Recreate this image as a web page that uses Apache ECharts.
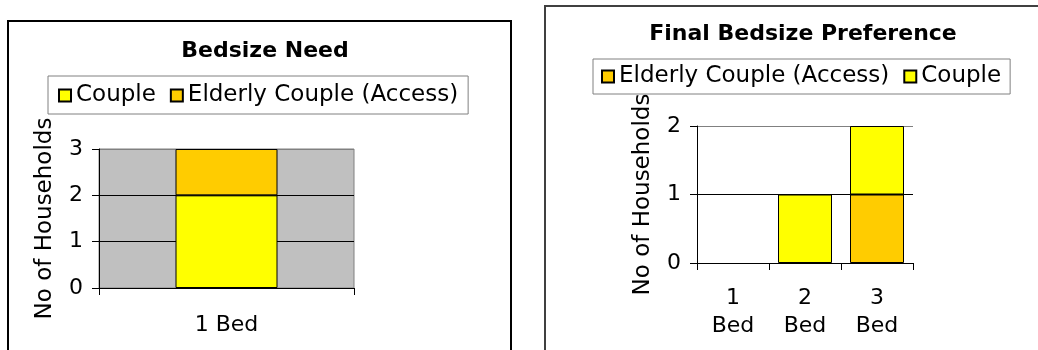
<!DOCTYPE html>
<html>
<head>
<meta charset="utf-8">
<script src="https://cdn.jsdelivr.net/npm/echarts@6/dist/echarts.min.js"></script>
<style>
  html, body { margin: 0; padding: 0; background: #fff; }
  #chart { width: 1038px; height: 350px; }
</style>
</head>
<body>
<div id="chart"></div>
<script>
// Bedsize Need (left panel)
const needCategories = ['1 Bed'];
const needCouple = [2];
const needElderly = [1];

// Final Bedsize Preference (right panel)
const prefCategories = ['1\nBed', '2\nBed', '3\nBed'];
const prefElderly = [0, 0, 1];
const prefCouple = [0, 1, 1];

const COUPLE = 'Couple';
const ELDERLY = 'Elderly Couple (Access)';
const FONT = 'DejaVu Sans';
const YELLOW = '#FFFF00';
const ORANGE = '#FFCC00';

const chart = echarts.init(document.getElementById('chart'), null, { renderer: 'canvas' });

const barStyle = (color) => ({ color: color, borderColor: '#000', borderWidth: 1 });
// empty stacks are left out so no outline is drawn along the axis
const barData = (values) => values.map(v => (v === 0 ? '-' : v));

function valueAxis(gridIndex, max, gridColors) {
  return {
    type: 'value', gridIndex: gridIndex, min: 0, max: max, interval: 1,
    name: 'No of Households', nameLocation: 'middle', nameGap: 42, nameRotate: 90,
    nameTextStyle: { fontFamily: FONT, fontSize: 23, color: '#000' },
    axisLine: { show: true, lineStyle: { color: '#000', width: 1 } },
    axisTick: { show: true, length: 7, lineStyle: { color: '#000' } },
    axisLabel: { margin: 16, fontFamily: FONT, fontSize: 22, color: '#000' },
    splitLine: { show: true, lineStyle: { color: gridColors, width: 1 } }
  };
}

const legendBase = {
  orient: 'horizontal', icon: 'rect', itemWidth: 12, itemHeight: 12, itemGap: 14,
  borderColor: '#808080', borderWidth: 1, selectedMode: false,
  textStyle: { fontFamily: FONT, fontSize: 23, color: '#000' }
};

const option = {
  backgroundColor: '#fff',
  animation: false,
  title: [
    { text: 'Bedsize Need', left: 260, top: 35, textAlign: 'center',
      textStyle: { fontFamily: FONT, fontSize: 22, fontWeight: 'bold', color: '#000' } },
    { text: 'Final Bedsize Preference', left: 798, top: 18, textAlign: 'center',
      textStyle: { fontFamily: FONT, fontSize: 22, fontWeight: 'bold', color: '#000' } }
  ],
  legend: [
    Object.assign({}, legendBase, { data: [COUPLE, ELDERLY], left: 48, top: 76, padding: [8, 10, 7, 10] }),
    Object.assign({}, legendBase, { data: [ELDERLY, COUPLE], left: 593, top: 59, padding: [6, 9, 6, 8] })
  ],
  graphic: [
    { type: 'rect', shape: { x: 8, y: 21, width: 503, height: 400 },
      style: { fill: null, stroke: '#000', lineWidth: 2 }, silent: true },
    { type: 'rect', shape: { x: 545, y: 6, width: 600, height: 400 },
      style: { fill: null, stroke: '#404040', lineWidth: 2 }, silent: true }
  ],
  grid: [
    { left: 99, top: 149, width: 255, height: 139, show: true,
      backgroundColor: '#C0C0C0', borderColor: '#808080', borderWidth: 1 },
    { left: 697, top: 126, width: 216, height: 137, show: false }
  ],
  xAxis: [
    { type: 'category', gridIndex: 0, data: needCategories,
      axisLine: { show: true, lineStyle: { color: '#000' } },
      axisTick: { show: true, length: 7, lineStyle: { color: '#000' } },
      axisLabel: { margin: 26, fontFamily: FONT, fontSize: 22, color: '#000' } },
    { type: 'category', gridIndex: 1, data: prefCategories,
      axisLine: { show: true, lineStyle: { color: '#000' } },
      axisTick: { show: true, length: 7, lineStyle: { color: '#000' } },
      axisLabel: { margin: 21, fontFamily: FONT, fontSize: 22, lineHeight: 28, color: '#000' } }
  ],
  yAxis: [
    valueAxis(0, 3, ['#000', '#000', '#000', '#808080']),
    valueAxis(1, 2, ['#000', '#000', '#808080'])
  ],
  series: [
    { name: COUPLE, type: 'bar', xAxisIndex: 0, yAxisIndex: 0, stack: 'need',
      barWidth: '40%', data: barData(needCouple), itemStyle: barStyle(YELLOW) },
    { name: ELDERLY, type: 'bar', xAxisIndex: 0, yAxisIndex: 0, stack: 'need',
      barWidth: '40%', data: barData(needElderly), itemStyle: barStyle(ORANGE) },
    { name: ELDERLY, type: 'bar', xAxisIndex: 1, yAxisIndex: 1, stack: 'pref',
      barWidth: '75%', data: barData(prefElderly), itemStyle: barStyle(ORANGE) },
    { name: COUPLE, type: 'bar', xAxisIndex: 1, yAxisIndex: 1, stack: 'pref',
      barWidth: '75%', data: barData(prefCouple), itemStyle: barStyle(YELLOW) }
  ]
};

chart.setOption(option);
</script>
</body>
</html>
